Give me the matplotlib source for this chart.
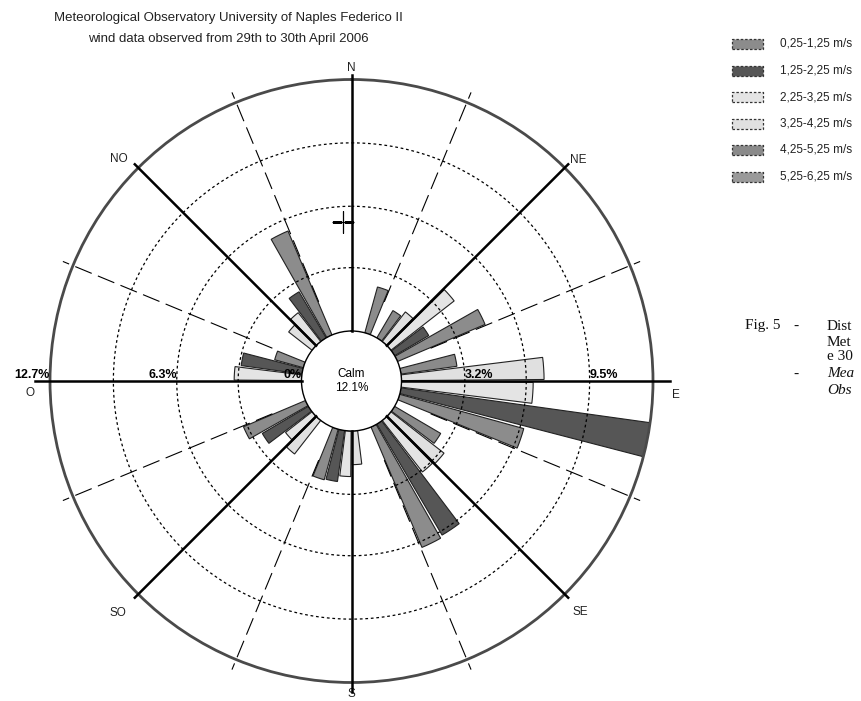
import numpy as np
import matplotlib
matplotlib.use("Agg")
import matplotlib.pyplot as plt
from matplotlib.patches import Rectangle

# wind rose data: 8 sectors, 6 speed classes (% of observations)
sectors = ["N", "NE", "E", "SE", "S", "SO", "O", "NO"]
sector_dir = [0, 45, 90, 135, 180, 225, 270, 315]
speed_classes = ["0,25-1,25 m/s", "1,25-2,25 m/s", "2,25-3,25 m/s",
                 "3,25-4,25 m/s", "4,25-5,25 m/s", "5,25-6,25 m/s"]
class_colors = ["#8c8c8c", "#565656", "#e4e4e4", "#e0e0e0", "#8a8a8a", "#9a9a9a"]

freq_c1 = [2.4, 4.8, 6.5, 6.6, 2.65, 3.4, 1.5, 5.7]
freq_c2 = [0.0, 2.0, 12.7, 6.5, 2.6, 2.7, 3.1, 2.7]
freq_c3 = [0.0, 4.05, 6.65, 3.3, 2.3, 1.7, 3.4, 1.85]
freq_c4 = [0.0, 1.9, 7.2, 3.4, 1.7, 2.15, 0.0, 1.5]
freq_c5 = [0.0, 1.6, 2.85, 2.7, 0.0, 0.0, 0.0, 0.0]
freq_c6 = [0.0, 0.0, 0.0, 0.0, 0.0, 0.0, 0.0, 0.0]
freqs = [freq_c1, freq_c2, freq_c3, freq_c4, freq_c5, freq_c6]

calm_pct = 12.1
ring_pct = [3.2, 6.3, 9.5]
r_max = 12.7
cursor_dir, cursor_pct = 357.0, 5.5

SANS = ["Liberation Sans", "DejaVu Sans"]
W, H = 861, 701

fig = plt.figure(figsize=(W / 100, H / 100), dpi=100)
cx, cy, rad = 351.5, 381, 301.5
ax = fig.add_axes([(cx - rad) / W, (H - cy - rad) / H, 2 * rad / W, 2 * rad / H],
                  projection="polar")
ax.set_theta_zero_location("N")
ax.set_theta_direction(-1)
hole = 50 / (rad - 50) * r_max
ax.set_rorigin(-hole)
ax.grid(False)
ax.set_xticks([])
ax.set_yticks([])

# bars: each sector split into 6 sub-wedges, class 1 on the clockwise side
pitch = 7.5
for i, vals in enumerate(freqs):
    for d, v in zip(sector_dir, vals):
        if v <= 0:
            continue
        th = np.deg2rad(d + 22.5 - pitch / 2 - pitch * i)
        ax.bar(th, v, width=np.deg2rad(6.6), bottom=0, color=class_colors[i],
               edgecolor="#222222", linewidth=0.8, zorder=2)

# rings
t = np.linspace(0, 2 * np.pi, 500)
for v in ring_pct:
    ax.plot(t, np.full_like(t, v), color="black", lw=0.9, ls=(0, (2.2, 2.2)), zorder=3)

# spokes: solid on the 8 main directions, dashed in between
spoke_len = {0: 12.95, 90: 13.55, 180: 13.2, 270: 13.45}
for d in sector_dir:
    th = np.deg2rad(d)
    ax.plot([th, th], [0, spoke_len.get(d, 12.95)], color="black", lw=1.8,
            clip_on=False, zorder=4)
    th2 = np.deg2rad(d + 22.5)
    ax.plot([th2, th2], [1.8, 13.25], color="black", lw=0.8, ls=(0, (16, 6)),
            clip_on=False, zorder=3)

ax.spines["polar"].set_color("#4a4a4a")
ax.spines["polar"].set_linewidth(2)
ax.spines["inner"].set_color("black")
ax.spines["inner"].set_linewidth(1)
ax.set_ylim(0, r_max)

ax.plot(np.deg2rad(cursor_dir), cursor_pct, marker="+", ms=16, mew=0.9,
        color="black", zorder=5)

# direction labels
label_pos = {"N": (0, 13.3), "NE": (45.7, 13.45), "E": (92.5, 13.85), "SE": (135.3, 13.9),
             "S": (180, 13.3), "SO": (225.2, 14.1), "O": (267.9, 13.7), "NO": (313.7, 13.7)}
for s in sectors:
    a, r = label_pos[s]
    ax.text(np.deg2rad(a), r, s, ha="center", va="center", fontsize=8.5,
            family=SANS, color="#222222")

# ring value labels along the W-E axis
for v in [0.0, 6.3, r_max]:
    ax.text(np.deg2rad(270), v, f"{v:g}%" if v else "0%", ha="right", va="bottom",
            fontsize=9, fontweight="bold", family=SANS)
for v in [3.2, 9.5]:
    ax.text(np.deg2rad(90), v, f"{v:g}%", ha="left", va="bottom",
            fontsize=9, fontweight="bold", family=SANS)

ax.text(0, -hole, f"Calm\n{calm_pct}%", ha="center", va="center", fontsize=8.5,
        family=SANS, linespacing=1.3, zorder=6)

# title
fig.text(228 / W, 1 - 18 / H, "Meteorological Observatory University of Naples Federico II",
         ha="center", va="center", fontsize=9.5, family=SANS, color="#222222")
fig.text(228 / W, 1 - 39 / H, "wind data observed from 29th to 30th April 2006",
         ha="center", va="center", fontsize=9.5, family=SANS, color="#222222")

# legend
for i, lab in enumerate(speed_classes):
    yc = 44 + 26.5 * i
    fig.add_artist(Rectangle((732 / W, 1 - (yc + 5) / H), 31 / W, 10 / H,
                             transform=fig.transFigure, facecolor=class_colors[i],
                             edgecolor="#333333", lw=0.9, ls=(0, (2, 1.5))))
    fig.text(780 / W, 1 - yc / H, lab, ha="left", va="center", fontsize=8.5,
             family=["Liberation Sans Narrow"] + SANS, color="#222222")

# caption on the right margin
SERIF = ["Liberation Serif", "DejaVu Serif"]
cap = [(745, 326, "Fig. 5", "normal"), (793, 326, "-", "normal"),
       (827, 326, "Dist", "normal"), (827, 342, "Met", "normal"),
       (827, 357, "e 30", "normal"), (793, 374, "-", "normal"),
       (827, 374, "Mea", "italic"), (827, 390, "Obs", "italic")]
for x, y, s, st in cap:
    fig.text(x / W, 1 - y / H, s, ha="left", va="center", fontsize=11,
             family=SERIF, style=st, color="#111111")

fig.savefig("out.png", dpi=100)
